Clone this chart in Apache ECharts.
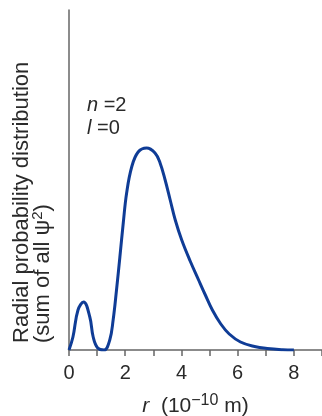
<!DOCTYPE html>
<html>
<head>
<meta charset="utf-8">
<script src="https://cdn.jsdelivr.net/npm/echarts@6/dist/echarts.min.js"></script>
<style>
  html, body { margin: 0; padding: 0; background: #fff; }
  #chart { width: 322px; height: 416px; }
</style>
</head>
<body>
<div id="chart"></div>
<script>
// radius r in units of 10^-10 m
const rValues = [0, 0.14, 0.32, 0.52, 0.74, 0.86, 1.02, 1.25, 1.45, 1.57, 1.69, 1.81, 1.93, 2.05, 2.23, 2.46, 2.76, 3.06, 3.24, 3.42, 3.6, 3.78, 4.01, 4.31, 4.61, 4.85, 5.1, 5.4, 5.7, 6.1, 6.6, 7.05, 7.6, 8.0]
// radial probability, arbitrary units (plot height = 340)
const probValues = [0, 13, 40, 48, 33, 13, 2, 0, 10, 30, 60, 93, 127, 157, 183, 198, 202, 197, 187, 170, 150, 130, 110, 89, 70, 55, 40, 26, 16, 8, 3.5, 1.5, 0.3, 0]
const xTicks = [0, 1, 2, 3, 4, 5, 6, 7, 8, 9]
const labelledTicks = [0, 2, 4, 6, 8]

const font = "'Liberation Sans', Arial, sans-serif"
const axisColor = '#666'
const textColor = '#2a2a2a'
const lineColor = '#0f3c96'

const chart = echarts.init(document.getElementById('chart'), null, { renderer: 'canvas' })

chart.setOption({
  animation: false,
  textStyle: { fontFamily: font },
  grid: { left: 69, right: 0, top: 10, bottom: 66, outerBoundsMode: 'none' },
  xAxis: {
    type: 'value',
    min: xTicks[0],
    max: xTicks[xTicks.length - 1],
    interval: 1,
    axisLine: { lineStyle: { color: axisColor, width: 1.5 } },
    axisTick: { show: true, inside: false, length: 6, lineStyle: { color: axisColor, width: 1.5 } },
    axisLabel: {
      color: textColor,
      fontSize: 20,
      margin: 13,
      fontFamily: font,
      formatter: v => labelledTicks.includes(v) ? String(v) : ''
    },
    splitLine: { show: false },
    name: '{i|r}  (10{sup|−10} m)',
    nameLocation: 'middle',
    nameGap: 43,
    nameTextStyle: {
      color: textColor,
      fontSize: 21,
      fontFamily: font,
      rich: {
        i: { fontStyle: 'italic', fontSize: 21, fontFamily: font, color: textColor },
        sup: { fontSize: 16, fontFamily: font, color: textColor, verticalAlign: 'bottom', padding: [0, 0, 10, 0] }
      }
    }
  },
  yAxis: {
    type: 'value',
    min: 0,
    max: 340,
    axisLine: { show: true, lineStyle: { color: axisColor, width: 1.5 } },
    axisTick: { show: false },
    axisLabel: { show: false },
    splitLine: { show: false }
  },
  graphic: [
    {
      type: 'text',
      x: 22, y: 343,
      rotation: Math.PI / 2,
      style: {
        text: 'Radial probability distribution',
        font: '22px ' + font,
        fill: textColor,
        textAlign: 'left',
        textVerticalAlign: 'middle'
      }
    },
    {
      type: 'text',
      x: 43, y: 343,
      rotation: Math.PI / 2,
      style: {
        text: '(sum of all ψ{sup|2})',
        font: '22px ' + font,
        fill: textColor,
        textAlign: 'left',
        textVerticalAlign: 'middle',
        rich: {
          sup: { fontSize: 15, fontFamily: font, fill: textColor, padding: [0, 0, 11, 0] }
        }
      }
    },
    {
      type: 'text',
      x: 87, y: 105,
      style: {
        rich: {
          i: { fontStyle: 'italic', fontSize: 20, fontFamily: font, fill: textColor },
          n: { fontSize: 20, fontFamily: font, fill: textColor }
        },
        text: '{i|n}{n| =2}',
        textVerticalAlign: 'middle'
      }
    },
    {
      type: 'text',
      x: 87, y: 128,
      style: {
        rich: {
          i: { fontStyle: 'italic', fontSize: 20, fontFamily: font, fill: textColor },
          n: { fontSize: 20, fontFamily: font, fill: textColor }
        },
        text: '{i|l}{n| =0}',
        textVerticalAlign: 'middle'
      }
    }
  ],
  series: [{
    type: 'line',
    data: rValues.map((r, i) => [r, probValues[i]]),
    smooth: 0.4,
    showSymbol: false,
    lineStyle: { color: lineColor, width: 3 },
    itemStyle: { color: lineColor },
    z: 1
  }]
})
</script>
</body>
</html>
